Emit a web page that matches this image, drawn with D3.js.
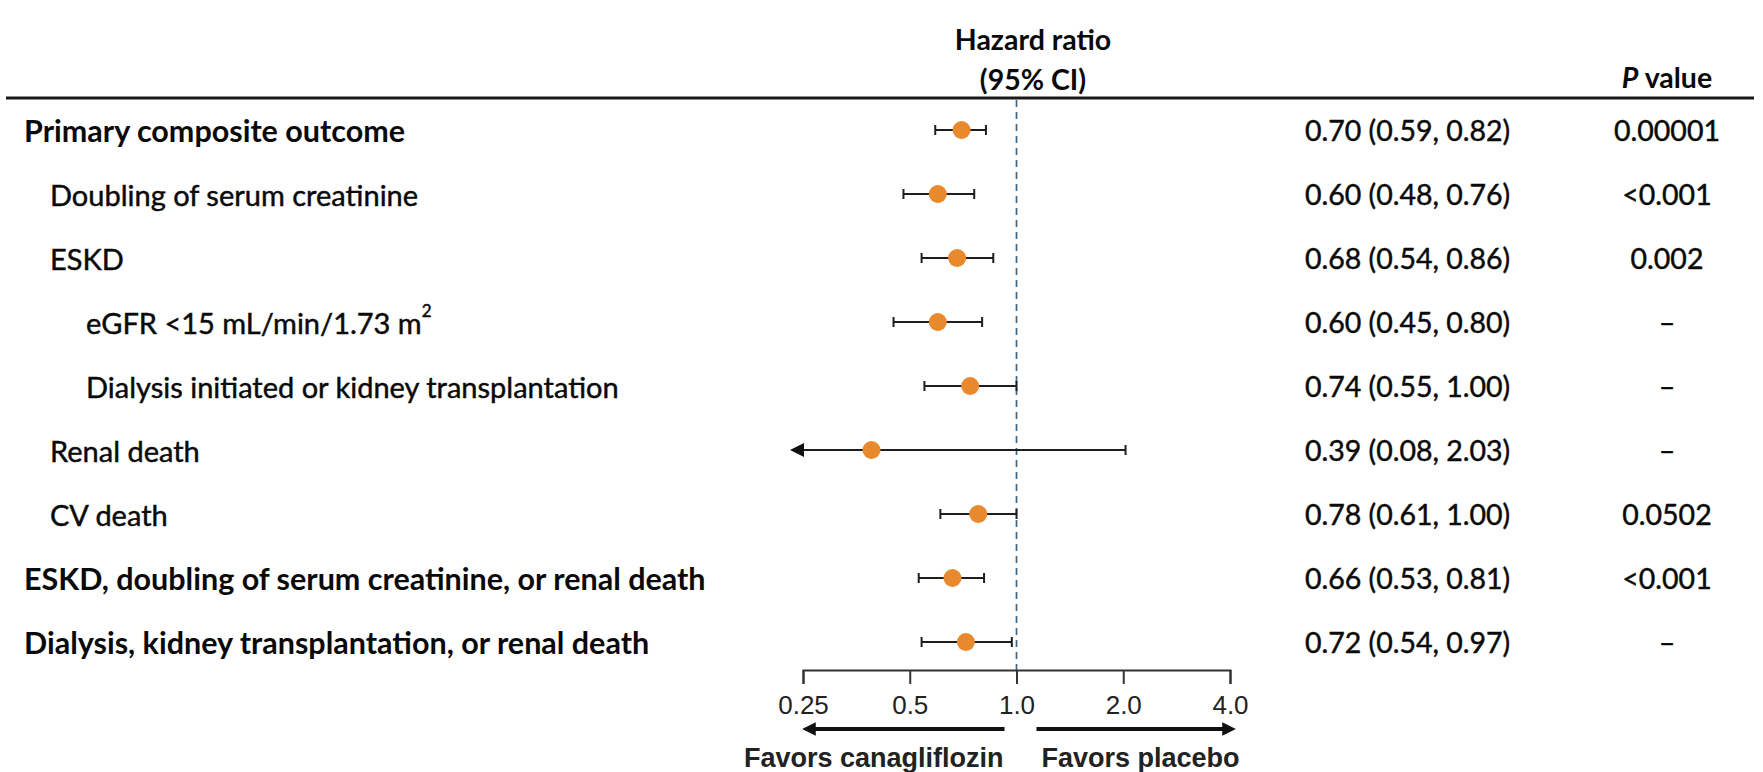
<!DOCTYPE html>
<html lang="en">
<head>
    <meta charset="UTF-8">
    <title>Hazard ratio forest plot</title>
    <script src="https://cdnjs.cloudflare.com/ajax/libs/d3/7.8.5/d3.min.js"></script>
    <style>
        body {
            margin: 0;
            background: #fff;
        }
        .label { font-family: Lato, "Open Sans", sans-serif; fill: #0a0a0a; }
        .thick { stroke: #0a0a0a; stroke-width: 0.45px; }
        .axis-text { font-family: "Liberation Sans", Arial, sans-serif; fill: #222; }
    </style>
</head>
<body>
    <div id="chart"></div>

    <script>
        // rows, top to bottom
        const outcomes = [
            "Primary composite outcome",
            "Doubling of serum creatinine",
            "ESKD",
            "eGFR <15 mL/min/1.73 m^2",
            "Dialysis initiated or kidney transplantation",
            "Renal death",
            "CV death",
            "ESKD, doubling of serum creatinine, or renal death",
            "Dialysis, kidney transplantation, or renal death"
        ];
        const indentLevel = [0, 1, 1, 2, 2, 1, 1, 0, 0];
        const hazardRatio = [0.70, 0.60, 0.68, 0.60, 0.74, 0.39, 0.78, 0.66, 0.72];
        const ciLower = [0.59, 0.48, 0.54, 0.45, 0.55, 0.08, 0.61, 0.53, 0.54];
        const ciUpper = [0.82, 0.76, 0.86, 0.80, 1.00, 2.03, 1.00, 0.81, 0.97];
        const pValues = ["0.00001", "<0.001", "0.002", "\u2013", "\u2013", "\u2013", "0.0502", "<0.001", "\u2013"];
        const tickValues = [0.25, 0.5, 1, 2, 4];
        const tickLabels = ["0.25", "0.5", "1.0", "2.0", "4.0"];

        const W = 1763, H = 772;
        const indentX = [24, 50, 86];
        const hrColX = 1305, pColX = 1667;
        const axisY = 670;

        const svg = d3.select("#chart").append("svg")
            .attr("width", W)
            .attr("height", H);

        const x = d3.scaleLog().base(2).domain([0.25, 4]).range([803, 1230]);
        const y = d3.scaleLinear().domain([0, outcomes.length - 1]).range([130, 642]);

        // header
        svg.append("text").attr("class", "label")
            .attr("x", 1033).attr("y", 39)
            .attr("text-anchor", "middle").attr("dominant-baseline", "central")
            .attr("font-size", 28.5).attr("font-weight", "bold")
            .text("Hazard ratio");
        svg.append("text").attr("class", "label")
            .attr("x", 1033).attr("y", 79)
            .attr("text-anchor", "middle").attr("dominant-baseline", "central")
            .attr("font-size", 28.5).attr("font-weight", "bold")
            .text("(95% CI)");
        const pHead = svg.append("text").attr("class", "label")
            .attr("x", pColX).attr("y", 77)
            .attr("text-anchor", "middle").attr("dominant-baseline", "central")
            .attr("font-size", 28.5).attr("font-weight", "bold");
        pHead.append("tspan").attr("font-style", "italic").text("P");
        pHead.append("tspan").text(" value");

        svg.append("line")
            .attr("x1", 6).attr("x2", 1754)
            .attr("y1", 98).attr("y2", 98)
            .attr("stroke", "#1a1a1a").attr("stroke-width", 3);

        // reference line at HR = 1
        svg.append("line")
            .attr("x1", x(1)).attr("x2", x(1))
            .attr("y1", 100).attr("y2", axisY)
            .attr("stroke", "#3a6886").attr("stroke-width", 1.7)
            .attr("stroke-dasharray", "7,5");

        // row labels
        outcomes.forEach((name, i) => {
            const parts = name.split("^");
            const bold = indentLevel[i] === 0;
            const t = svg.append("text")
                .attr("class", bold ? "label" : "label thick")
                .attr("x", indentX[indentLevel[i]])
                .attr("y", y(i))
                .attr("dominant-baseline", "central")
                .attr("font-size", bold ? 30.5 : 29)
                .attr("font-weight", bold ? "bold" : "normal");
            t.append("tspan").text(parts[0]);
            if (parts[1]) {
                t.append("tspan").attr("font-size", 17).attr("dy", -12).text(parts[1]);
            }
        });

        // confidence intervals
        const ci = svg.append("g");
        outcomes.forEach((name, i) => {
            const yy = y(i);
            const clipped = ciLower[i] < x.domain()[0];
            const xl = clipped ? x(x.domain()[0]) - 13 : x(ciLower[i]);
            const xr = x(ciUpper[i]);
            ci.append("line")
                .attr("x1", xl + (clipped ? 10 : 0)).attr("x2", xr)
                .attr("y1", yy).attr("y2", yy)
                .attr("stroke", "#1e1e1e").attr("stroke-width", 2);
            ci.append("line")
                .attr("x1", xr).attr("x2", xr)
                .attr("y1", yy - 5).attr("y2", yy + 5)
                .attr("stroke", "#1e1e1e").attr("stroke-width", 2);
            if (clipped) {
                ci.append("path")
                    .attr("d", `M${xl},${yy} L${xl + 14},${yy - 7} L${xl + 14},${yy + 7} Z`)
                    .attr("fill", "#111");
            } else {
                ci.append("line")
                    .attr("x1", xl).attr("x2", xl)
                    .attr("y1", yy - 5).attr("y2", yy + 5)
                    .attr("stroke", "#1e1e1e").attr("stroke-width", 2);
            }
        });

        // point estimates
        svg.append("g").selectAll("circle")
            .data(hazardRatio)
            .join("circle")
            .attr("cx", d => x(d))
            .attr("cy", (d, i) => y(i))
            .attr("r", 9)
            .attr("fill", "#e8892e");

        // HR (95% CI) column
        svg.append("g").selectAll("text")
            .data(hazardRatio)
            .join("text")
            .attr("class", "label thick")
            .attr("x", hrColX)
            .attr("y", (d, i) => y(i))
            .attr("dominant-baseline", "central")
            .attr("font-size", 28.5)
            .text((d, i) => `${d.toFixed(2)} (${ciLower[i].toFixed(2)}, ${ciUpper[i].toFixed(2)})`);

        // P value column
        svg.append("g").selectAll("text")
            .data(pValues)
            .join("text")
            .attr("class", "label thick")
            .attr("x", pColX)
            .attr("y", (d, i) => y(i))
            .attr("text-anchor", "middle")
            .attr("dominant-baseline", "central")
            .attr("font-size", 28.5)
            .text(d => d);

        // x axis
        const axis = svg.append("g")
            .attr("transform", `translate(0,${axisY})`)
            .call(d3.axisBottom(x)
                .tickValues(tickValues)
                .tickFormat((d, i) => tickLabels[i])
                .tickSizeInner(14)
                .tickSizeOuter(14)
                .tickPadding(12));
        axis.select(".domain").attr("stroke", "#333").attr("stroke-width", 2);
        axis.selectAll(".tick line").attr("stroke", "#333").attr("stroke-width", 2);
        axis.selectAll(".tick text")
            .attr("class", "axis-text")
            .attr("font-size", 26)
            .attr("fill", "#333");

        // direction arrows
        const arrowY = 729;
        const defs = svg.append("defs");
        defs.append("marker")
            .attr("id", "head")
            .attr("viewBox", "0 0 10 10")
            .attr("refX", 2).attr("refY", 5)
            .attr("markerWidth", 3.4).attr("markerHeight", 3.4)
            .attr("orient", "auto")
            .append("path")
            .attr("d", "M0,0 L10,5 L0,10 Z")
            .attr("fill", "#111");

        svg.append("line")
            .attr("x1", x(1) - 12).attr("x2", x(0.25) + 10)
            .attr("y1", arrowY).attr("y2", arrowY)
            .attr("stroke", "#111").attr("stroke-width", 4)
            .attr("marker-end", "url(#head)");
        svg.append("line")
            .attr("x1", x(1) + 20).attr("x2", x(4) - 5)
            .attr("y1", arrowY).attr("y2", arrowY)
            .attr("stroke", "#111").attr("stroke-width", 4)
            .attr("marker-end", "url(#head)");

        svg.append("text").attr("class", "axis-text")
            .attr("x", x(1) - 13).attr("y", 767)
            .attr("text-anchor", "end")
            .attr("font-size", 27).attr("font-weight", "bold").attr("fill", "#111")
            .text("Favors canagliflozin");
        svg.append("text").attr("class", "axis-text")
            .attr("x", x(1) + 25).attr("y", 767)
            .attr("font-size", 27).attr("font-weight", "bold").attr("fill", "#111")
            .text("Favors placebo");
    </script>
</body>
</html>
